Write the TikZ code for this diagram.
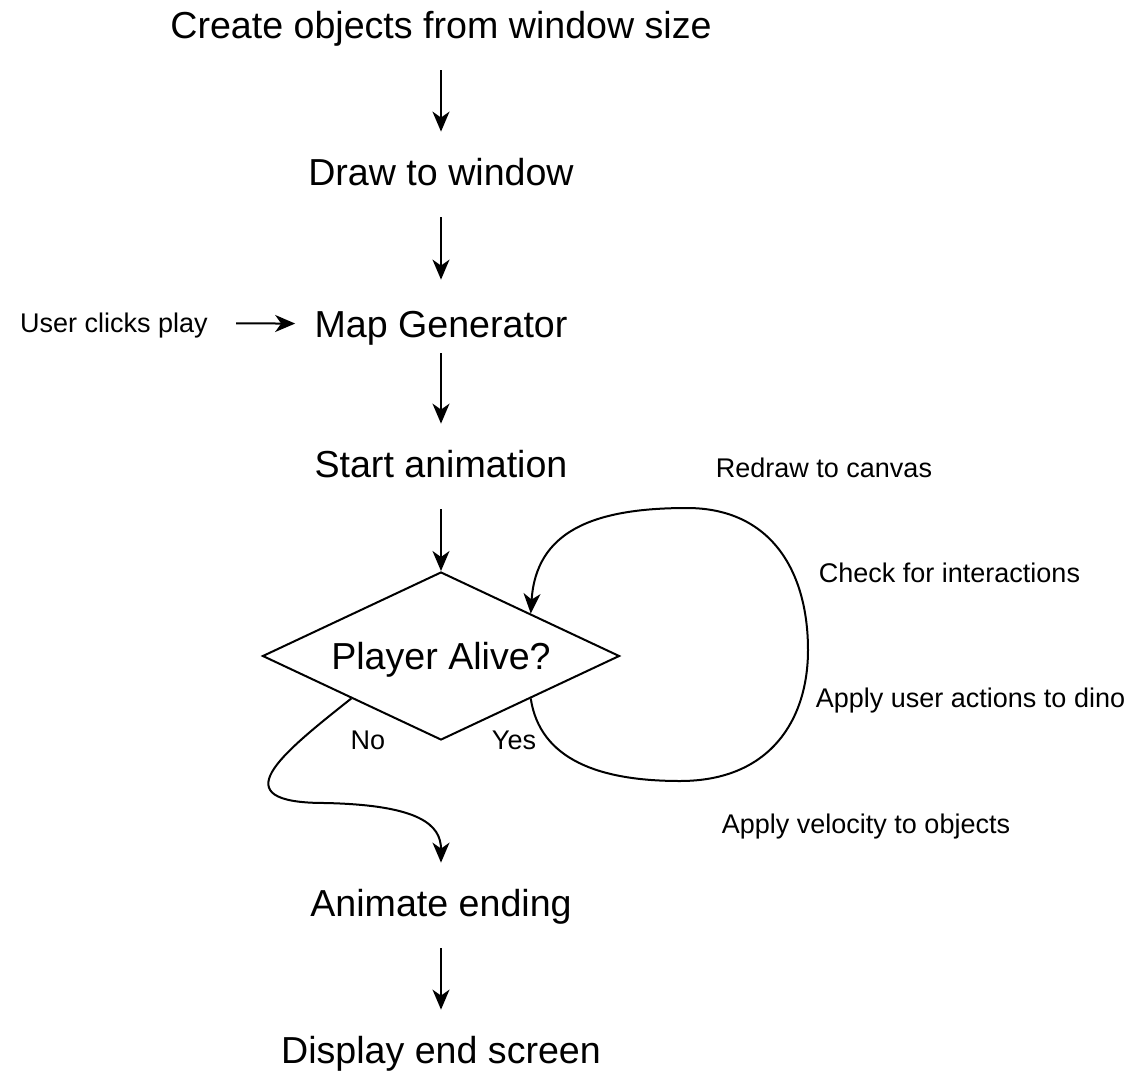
\documentclass[tikz,border=0pt]{standalone}
\usepackage{fontspec}
\setmainfont{Liberation Sans}
\usetikzlibrary{arrows.meta,shapes.geometric}
\begin{document}
\begin{tikzpicture}[x=0.5pt,y=-0.5pt,
  stage/.style={font=\fontsize{18.8}{22}\selectfont,text height=13.5pt,text depth=0pt,inner xsep=0pt,inner ysep=13.25pt},
  note/.style={font=\fontsize{13.5}{16}\selectfont,text height=9.7pt,text depth=0pt,inner sep=0pt},
  decision/.style={shape=diamond,draw=black,line width=1pt,aspect=2.125,minimum width=178.5pt,minimum height=84pt,inner sep=0pt,font=\fontsize{18.8}{22}\selectfont,text height=13.5pt,text depth=0pt},
  flow/.style={-{Stealth[length=10pt,width=8.5pt,inset=3pt]},line width=1pt,shorten <=2.5pt}]
\useasboundingbox (0,0) rectangle (1126,1077);
\node[stage] (create) at (441,25) {Create objects from window size};
\node[stage] (drawwin) at (441,172) {Draw to window};
\node[stage] (mapgen) at (441,324) {Map Generator};
\node[stage] (startanim) at (441,464) {Start animation};
\node[decision] (alive) at (441,656) {Player Alive?};
\node[stage] (ending) at (441,903) {Animate ending};
\node[stage] (endscreen) at (441,1050) {Display end screen};
\node[note] (user) at (114,323) {User clicks play};
\node[note] (no) at (368,740) {No};
\node[note] (yes) at (514,740) {Yes};
\node[note] (redraw) at (824,468) {Redraw to canvas};
\node[note] (check) at (949.5,573) {Check for interactions};
\node[note] (actions) at (970.5,698) {Apply user actions to dino};
\node[note] (velocity) at (866,824) {Apply velocity to objects};
\path [flow] (create) edge (drawwin);
\path [flow] (drawwin) edge[shorten >=2pt] (mapgen);
\path [flow] (mapgen) edge[shorten <=-5.5pt] (startanim);
\path [flow] (startanim) edge (alive);
\path [flow] (ending) edge (endscreen);
\path [flow] (user) edge[shorten <=14pt,shorten >=9.5pt] (mapgen);
% loop while the player is alive
\draw [flow,shorten <=0pt] (alive.south east) .. controls (540,760) and (600,781) .. (680,781)
  .. controls (770,781) and (808,720) .. (808,650)
  .. controls (808,570) and (770,508) .. (687,508)
  .. controls (592,508) and (536,532) .. (alive.north east);
\draw [flow,shorten <=0pt] (alive.south west) .. controls (280,755) and (220,803) .. (325,803)
  .. controls (420,805) and (441,825) .. (ending);
\end{tikzpicture}
\end{document}
